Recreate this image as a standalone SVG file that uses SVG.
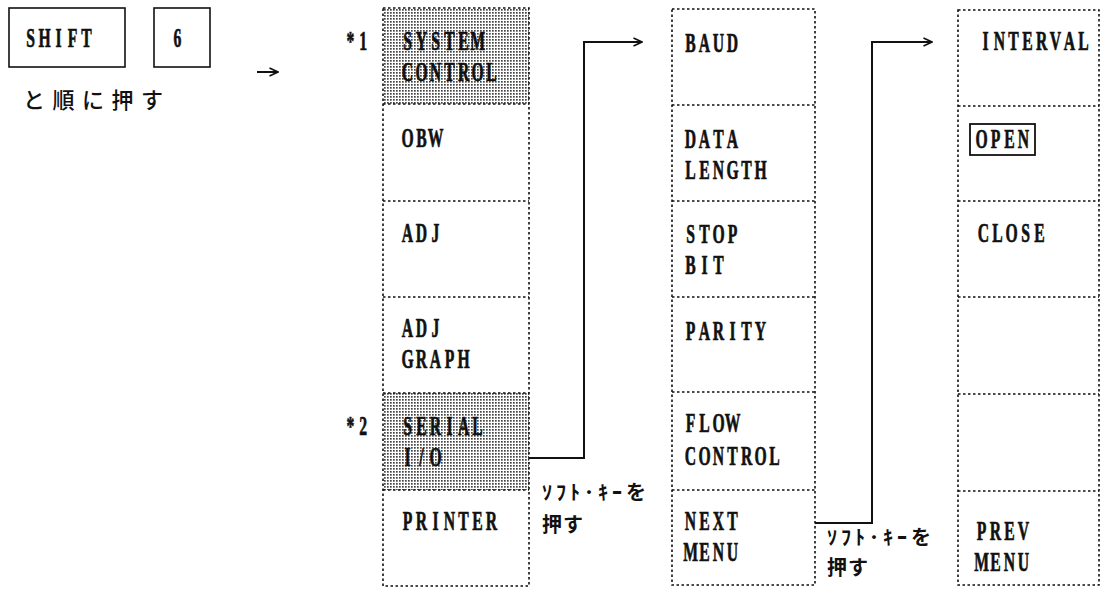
<svg xmlns="http://www.w3.org/2000/svg" width="1101" height="601" viewBox="0 0 1101 601">
<defs>
<style>
.t{font-family:"Liberation Serif",serif;font-size:27px;font-weight:bold;fill:#111;stroke:#111;stroke-width:0.7;text-anchor:middle}
.j{font-family:"Noto Sans CJK JP",sans-serif;font-size:20px;font-weight:bold;fill:#111}
.jn{font-family:"Noto Sans CJK JP",sans-serif;font-size:22px;font-weight:500;letter-spacing:7.5px;fill:#111}
.cell{fill:none;stroke:#111;stroke-width:1.6;stroke-dasharray:2.5 2.5}
.key{fill:#fff;stroke:#111;stroke-width:1.6}
.conn{fill:none;stroke:#111;stroke-width:2}
</style>
<pattern id="dots" width="3" height="3" patternUnits="userSpaceOnUse">
<rect width="3" height="3" fill="#fff"/>
<rect width="1.7" height="1.7" fill="#444"/>
</pattern>
<marker id="arr" viewBox="0 0 10 10" refX="9.5" refY="5" markerWidth="10" markerHeight="10" markerUnits="userSpaceOnUse" orient="auto">
<path d="M1,1 L9.5,5 L1,9" fill="none" stroke="#111" stroke-width="1.6"/>
</marker>
</defs>
<rect width="1101" height="601" fill="#fff"/>

<g id="key-shift">
<rect class="key" x="9" y="8" width="116" height="59"/>
<text class="t" transform="translate(25,47) scale(0.58,1)" x="9.5 33.6 57.8 81.9 106.1">SHIFT</text>
</g>
<g id="key-6">
<rect class="key" x="154" y="8" width="56" height="59"/>
<text class="t" transform="translate(172,47) scale(0.58,1)" x="9.5">6</text>
</g>
<g id="note-keys">
<text class="jn" x="23" y="108">と順に押す</text>
</g>
<g id="arrow-keys">
<path class="conn" d="M257,72 L278,72" stroke-width="1.8" marker-end="url(#arr)"/>
</g>

<g id="menu1">
<rect x="383" y="8" width="146" height="96" fill="url(#dots)"/>
<rect x="383" y="393" width="146" height="97" fill="url(#dots)"/>
<rect class="cell" x="383" y="8" width="146" height="578"/>
<path class="cell" d="M383,104H529M383,201H529M383,297H529M383,393H529M383,490H529"/>
<text class="t" transform="translate(345,50) scale(0.58,1)" x="9.5 31.5">*1</text>
<text class="t" transform="translate(402,50) scale(0.58,1)" x="9.5 33.6 57.8 81.9 106.1 130.2">SYSTEM</text>
<text class="t" transform="translate(402,81) scale(0.58,1)" x="9.5 33.6 57.8 81.9 106.1 130.2 154.3">CONTROL</text>
<text class="t" transform="translate(402,147) scale(0.58,1)" x="9.5 33.6 57.8">OBW</text>
<text class="t" transform="translate(402,242) scale(0.58,1)" x="9.5 33.6 57.8">ADJ</text>
<text class="t" transform="translate(402,337) scale(0.58,1)" x="9.5 33.6 57.8">ADJ</text>
<text class="t" transform="translate(402,368) scale(0.58,1)" x="9.5 33.6 57.8 81.9 106.1">GRAPH</text>
<text class="t" transform="translate(345,435) scale(0.58,1)" x="9.5 31.5">*2</text>
<text class="t" transform="translate(402,435) scale(0.58,1)" x="9.5 33.6 57.8 81.9 106.1 130.2">SERIAL</text>
<text class="t" transform="translate(402,466) scale(0.58,1)" x="9.5 33.6 57.8">I/O</text>
<text class="t" transform="translate(402,530) scale(0.58,1)" x="9.5 33.6 57.8 81.9 106.1 130.2 154.3">PRINTER</text>
</g>

<g id="menu2">
<rect class="cell" x="672" y="9" width="143" height="576"/>
<path class="cell" d="M672,105H815M672,201H815M672,297H815M672,392H815M672,490H815"/>
<text class="t" transform="translate(685,52) scale(0.58,1)" x="9.5 33.6 57.8 81.9">BAUD</text>
<text class="t" transform="translate(685,148) scale(0.58,1)" x="9.5 33.6 57.8 81.9">DATA</text>
<text class="t" transform="translate(685,179) scale(0.58,1)" x="9.5 33.6 57.8 81.9 106.1 130.2">LENGTH</text>
<text class="t" transform="translate(685,243) scale(0.58,1)" x="9.5 33.6 57.8 81.9">STOP</text>
<text class="t" transform="translate(685,274) scale(0.58,1)" x="9.5 33.6 57.8">BIT</text>
<text class="t" transform="translate(685,340) scale(0.58,1)" x="9.5 33.6 57.8 81.9 106.1 130.2">PARITY</text>
<text class="t" transform="translate(685,432) scale(0.58,1)" x="9.5 33.6 57.8 81.9">FLOW</text>
<text class="t" transform="translate(685,465) scale(0.58,1)" x="9.5 33.6 57.8 81.9 106.1 130.2 154.3">CONTROL</text>
<text class="t" transform="translate(685,530) scale(0.58,1)" x="9.5 33.6 57.8 81.9">NEXT</text>
<text class="t" transform="translate(685,561) scale(0.58,1)" x="9.5 33.6 57.8 81.9">MENU</text>
</g>

<g id="menu3">
<rect class="cell" x="958" y="10" width="141" height="575"/>
<path class="cell" d="M958,106H1099M958,201H1099M958,297H1099M958,394H1099M958,491H1099"/>
<text class="t" transform="translate(980,50) scale(0.58,1)" x="9.5 33.6 57.8 81.9 106.1 130.2 154.3 178.5">INTERVAL</text>
<rect x="970" y="124" width="65" height="31" fill="none" stroke="#111" stroke-width="1.8"/>
<text class="t" transform="translate(976,148) scale(0.58,1)" x="9.5 33.6 57.8 81.9">OPEN</text>
<text class="t" transform="translate(978,242) scale(0.58,1)" x="9.5 33.6 57.8 81.9 106.1">CLOSE</text>
<text class="t" transform="translate(976,540) scale(0.58,1)" x="9.5 33.6 57.8 81.9">PREV</text>
<text class="t" transform="translate(976,571) scale(0.58,1)" x="9.5 33.6 57.8 81.9">MENU</text>
</g>

<g id="connectors">
<path class="conn" d="M529,458 H584 V42 H642" marker-end="url(#arr)"/>
<path class="conn" d="M815,523 H872 V42 H932" marker-end="url(#arr)"/>
</g>

<g id="labels">
<text class="j" x="542" y="500" textLength="104" lengthAdjust="spacing">ｿﾌﾄ･ｷｰを</text>
<text class="j" x="542" y="532" letter-spacing="1">押す</text>
<text class="j" x="827" y="545" textLength="104" lengthAdjust="spacing">ｿﾌﾄ･ｷｰを</text>
<text class="j" x="827" y="575" letter-spacing="1">押す</text>
</g>
</svg>
